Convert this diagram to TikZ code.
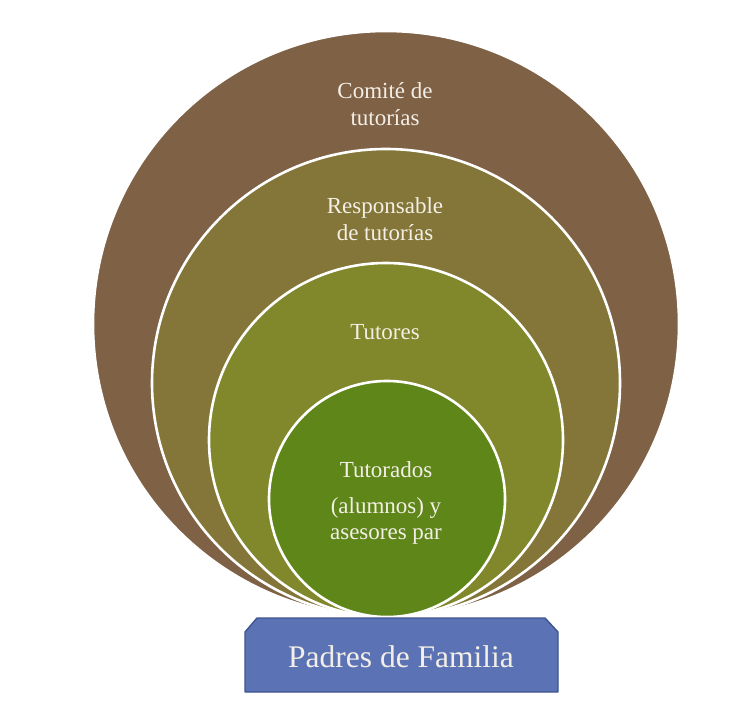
\documentclass[tikz,border=0pt]{standalone}
\usepackage{fontspec}
\setmainfont{Liberation Serif}
\definecolor{cBrown}{HTML}{7F6146}
\definecolor{cOlive}{HTML}{847638}
\definecolor{cOlGreen}{HTML}{80882B}
\definecolor{cGreen}{HTML}{5E8619}
\definecolor{cBox}{HTML}{5B72B5}
\definecolor{cBoxLine}{HTML}{3F5590}
\definecolor{cText}{HTML}{F3EFE6}
\pgfdeclareradialshading{bgshade}{\pgfpoint{0bp}{0bp}}{color(0bp)=(white); color(52bp)=(white); color(60bp)=(black!4); color(72bp)=(black!6)}
\tikzset{
  ring/.style={circle, draw=white, line width=2.6pt, inner sep=0pt},
  lbl/.style={text=cText, font=\fontsize{23}{26.5}\selectfont, align=center, inner sep=0pt},
}
\begin{document}
\begin{tikzpicture}[x=1pt,y=-1pt]
\useasboundingbox (0,0) rectangle (754,709);
\fill[white] (0,0) rectangle (754,709);
\shade[shading=bgshade] (7,8) rectangle (754,709);
% nested circles tangent at the bottom
\node[ring, fill=cBrown,   minimum size=586pt] (c1) at (386,324) {};
\node[ring, fill=cOlive,   minimum size=468pt] (c2) at (386,383) {};
\node[ring, fill=cOlGreen, minimum size=354pt] (c3) at (386,440) {};
\node[ring, fill=cGreen,   minimum size=236pt] (c4) at (387,499) {};
% labels
\node[lbl] (t1) at (385,104) {Comité de\\tutorías};
\node[lbl] (t2) at (385,219) {Responsable\\de tutorías};
\node[lbl] (t3) at (385,332) {Tutores};
\node[lbl] (t4a) at (386,470) {Tutorados};
\node[lbl] (t4b) at (386,521) {(alumnos) y\\asesores par};
% base box
\draw[fill=cBox, draw=cBoxLine, line width=1.4pt, line join=round]
  (245,632) -- (257,618) -- (545,618) -- (558,632) -- (558,692) -- (245,692) -- cycle;
\node[text=cText, font=\fontsize{31.5}{36}\selectfont, inner sep=0pt] (pf) at (401,657) {Padres de Familia};
\end{tikzpicture}
\end{document}
